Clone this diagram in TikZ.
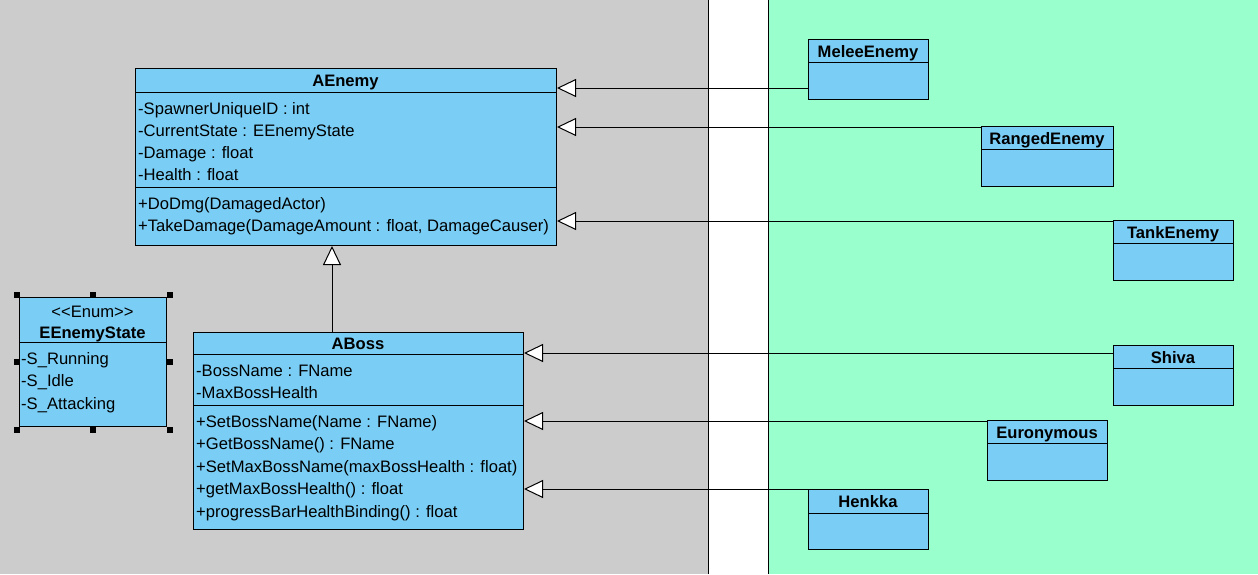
\documentclass[tikz,border=0pt]{standalone}
\usepackage{fontspec}
\setmainfont{Liberation Sans}
\usetikzlibrary{arrows.meta}
\definecolor{clsblue}{RGB}{122,206,245}
\definecolor{bggreen}{RGB}{153,255,204}
\definecolor{bggray}{RGB}{204,204,204}
\begin{document}
\begin{tikzpicture}[x=1pt,y=-1pt,
  cls/.style={draw=black,fill=clsblue,line width=1pt,anchor=north west,inner sep=0pt},
  mem/.style={anchor=west,inner sep=0pt,text height=15pt,text depth=1.5pt,font=\fontsize{16.6}{19}\selectfont},
  ttl/.style={anchor=center,inner sep=0pt,text height=15pt,text depth=1.5pt,font=\bfseries\fontsize{16.6}{19}\selectfont},
  stereo/.style={anchor=center,inner sep=0pt,text height=15pt,text depth=1.5pt,font=\fontsize{16.6}{19}\selectfont},
  sep/.style={draw=black,line width=1pt},
  inh/.style={draw=black,line width=1pt,-{Triangle[length=19pt,width=18pt,fill=white]}},
  handle/.style={fill=black,draw=none,minimum size=6pt,inner sep=0pt}]
\useasboundingbox (0,0) rectangle (1258,574);
% backgrounds
\fill[bggray] (0,0) rectangle (708,574);
\fill[white] (708,0) rectangle (768,574);
\fill[bggreen] (768,0) rectangle (1258,574);
\draw[line width=1pt] (708,0) -- (708,574);
\draw[line width=1pt] (768,0) -- (768,574);

% AEnemy
\node[cls,minimum width=421pt,minimum height=177pt] (aenemy) at (135,68) {};
\draw[sep] (aenemy.west |- 0,92) -- (aenemy.east |- 0,92);
\draw[sep] (aenemy.west |- 0,187) -- (aenemy.east |- 0,187);
\node[ttl] (aenemyT) at (345.5,80) {AEnemy};
\node[mem] (ae1) at (138,108) {-SpawnerUniqueID : int};
\node[mem] (ae2) at (138,130) {-CurrentState : EEnemyState};
\node[mem] (ae3) at (138,152) {-Damage : float};
\node[mem] (ae4) at (138,174) {-Health : float};
\node[mem] (ae5) at (138,203) {+DoDmg(DamagedActor)};
\node[mem] (ae6) at (138,225) {+TakeDamage(DamageAmount : float, DamageCauser)};

% EEnemyState
\node[cls,minimum width=147pt,minimum height=129pt] (estate) at (19,297) {};
\draw[sep] (estate.west |- 0,342) -- (estate.east |- 0,342);
\node[stereo] (esS) at (92.5,311) {<\kern0pt<Enum>\kern0pt>};
\node[ttl] (esT) at (92.5,332) {EEnemyState};
\node[mem] (es1) at (21,358) {-S\_Running};
\node[mem] (es2) at (21,380) {-S\_Idle};
\node[mem] (es3) at (21,403) {-S\_Attacking};
\node[handle] (h1) at (17,295) {};
\node[handle] (h2) at (93,295) {};
\node[handle] (h3) at (170,295) {};
\node[handle] (h4) at (17,362) {};
\node[handle] (h5) at (170,362) {};
\node[handle] (h6) at (17,430) {};
\node[handle] (h7) at (93,430) {};
\node[handle] (h8) at (170,430) {};

% ABoss
\node[cls,minimum width=330pt,minimum height=197pt] (aboss) at (193,332) {};
\draw[sep] (aboss.west |- 0,354) -- (aboss.east |- 0,354);
\draw[sep] (aboss.west |- 0,405) -- (aboss.east |- 0,405);
\node[ttl] (abossT) at (358,343) {ABoss};
\node[mem] (ab1) at (196,370) {-BossName : FName};
\node[mem] (ab2) at (196,392) {-MaxBossHealth};
\node[mem] (ab3) at (196,421) {+SetBossName(Name : FName)};
\node[mem] (ab4) at (196,443) {+GetBossName() : FName};
\node[mem] (ab5) at (196,466) {+SetMaxBossName(maxBossHealth : float)};
\node[mem] (ab6) at (196,488) {+getMaxBossHealth() : float};
\node[mem] (ab7) at (196,511) {+progressBarHealthBinding() : float};

% small classes
\node[cls,minimum width=120pt,minimum height=60pt] (melee) at (808,39) {};
\draw[sep] (melee.west |- 0,62) -- (melee.east |- 0,62);
\node[ttl] (meleeT) at (868,51) {MeleeEnemy};

\node[cls,minimum width=132pt,minimum height=60pt] (ranged) at (981,126) {};
\draw[sep] (ranged.west |- 0,149) -- (ranged.east |- 0,149);
\node[ttl] (rangedT) at (1047,138) {RangedEnemy};

\node[cls,minimum width=120pt,minimum height=60pt] (tank) at (1113,220) {};
\draw[sep] (tank.west |- 0,243) -- (tank.east |- 0,243);
\node[ttl] (tankT) at (1173,232) {TankEnemy};

\node[cls,minimum width=120pt,minimum height=60pt] (shiva) at (1113,345) {};
\draw[sep] (shiva.west |- 0,368) -- (shiva.east |- 0,368);
\node[ttl] (shivaT) at (1173,357) {Shiva};

\node[cls,minimum width=120pt,minimum height=60pt] (euro) at (987,420) {};
\draw[sep] (euro.west |- 0,443) -- (euro.east |- 0,443);
\node[ttl] (euroT) at (1047,432) {Euronymous};

\node[cls,minimum width=120pt,minimum height=60pt] (henkka) at (808,489) {};
\draw[sep] (henkka.west |- 0,513) -- (henkka.east |- 0,513);
\node[ttl] (henkkaT) at (868,501) {Henkka};

% generalizations
\draw[inh] (aboss.north -| 332,0) -- (aenemy.south -| 332,0);
\draw[inh] (melee.west |- 0,88) -- (aenemy.east |- 0,88);
\draw[inh] (ranged.west |- 0,127) -- (aenemy.east |- 0,127);
\draw[inh] (tank.west |- 0,221) -- (aenemy.east |- 0,221);
\draw[inh] (shiva.west |- 0,353) -- (aboss.east |- 0,353);
\draw[inh] (euro.west |- 0,421) -- (aboss.east |- 0,421);
\draw[inh] (henkka.west |- 0,489) -- (aboss.east |- 0,489);
\end{tikzpicture}
\end{document}
